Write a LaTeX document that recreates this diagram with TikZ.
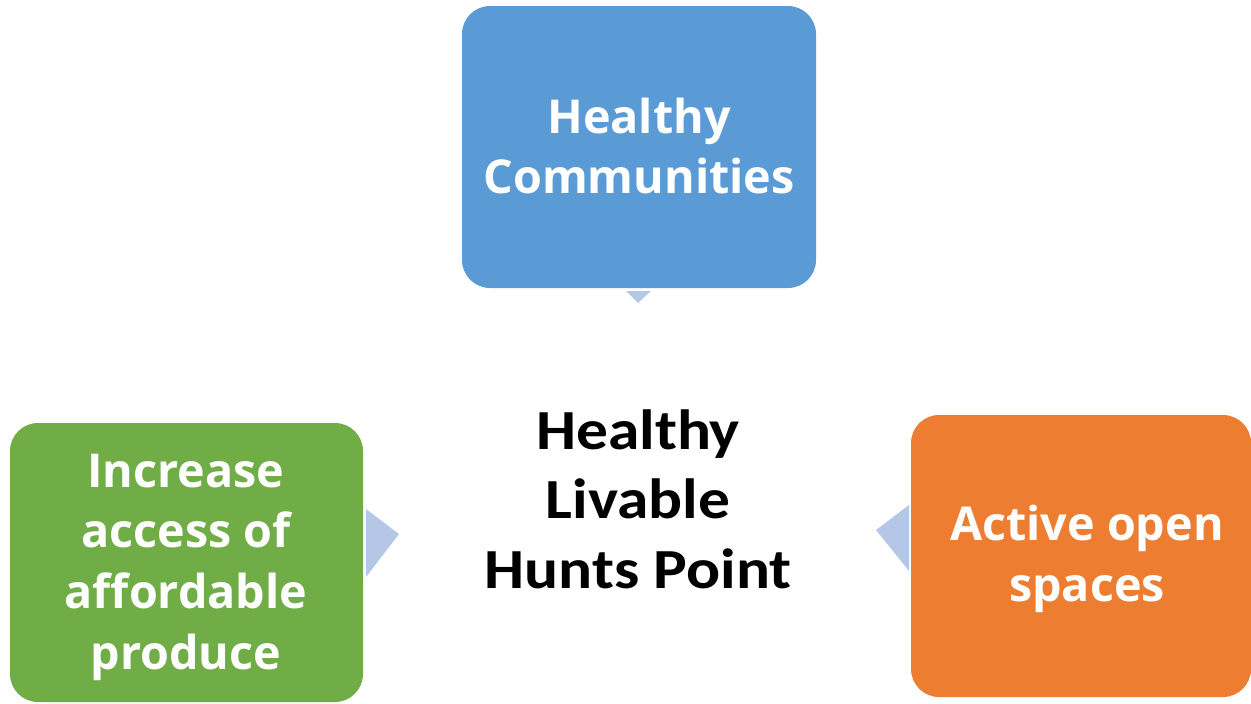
\documentclass[tikz,border=0pt]{standalone}
\usepackage{fontspec}
\setmainfont{Carlito}
\newfontfamily\boxfont{Open Sans}
\newfontfamily\hubfont[FakeStretch=1.12]{Carlito}
\definecolor{cblue}{HTML}{5B9BD5}
\definecolor{cgreen}{HTML}{70AD47}
\definecolor{corange}{HTML}{ED7D31}
\definecolor{ctri}{HTML}{B4C7E7}
\begin{document}
\begin{tikzpicture}[x=0.75pt,y=-0.75pt,
  card/.style={rounded corners=21pt, inner sep=0pt},
  cardtext/.style={text=white, align=center, inner sep=0pt, font=\boxfont\bfseries\fontsize{35}{45.5}\selectfont},
  hubtext/.style={text=black, align=center, inner sep=0pt, font=\hubfont\bfseries\fontsize{42.5}{52}\selectfont},
  tri/.style={fill=ctri, draw=none}]
\useasboundingbox (0,0) rectangle (1251,703);
% boxes
\fill[cblue, card] (462,6) rectangle (816,288);
\fill[cgreen, card] (10,423) rectangle (363,702);
\fill[corange, card] (911,415) rectangle (1251,697);
\node[cardtext] (top) at (639,146) {Healthy\\Communities};
\node[cardtext] (left) at (186,567) {Increase\\access of\\affordable\\produce};
\node[cardtext] (right) at (1087,559) {Active open\\spaces};
\node[hubtext] (hub) at (638,499) {Healthy\\Livable\\Hunts Point};
% arrow heads
\fill[tri] (626,291) -- (651,291) -- (638,303) -- cycle;
\fill[tri] (366,509) -- (399,534) -- (366,577) -- cycle;
\fill[tri] (909,505) -- (876,530) -- (909,571) -- cycle;
\end{tikzpicture}
\end{document}
